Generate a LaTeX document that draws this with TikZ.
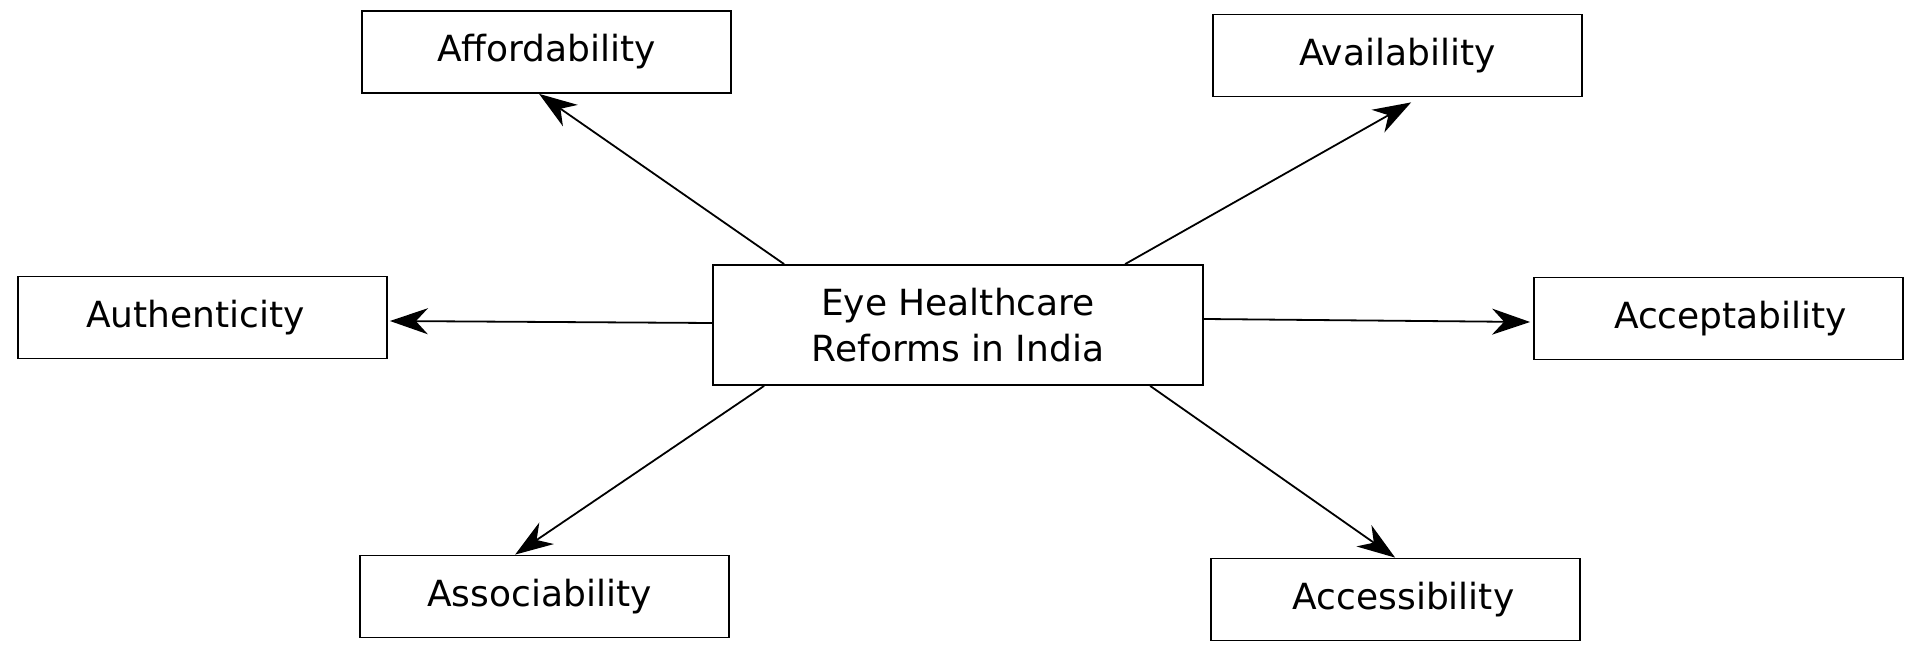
\documentclass[tikz,border=0pt]{standalone}
\usepackage{fontspec}
\setmainfont{DejaVu Sans}
\usetikzlibrary{arrows.meta}
\begin{document}
\begin{tikzpicture}[x=0.5pt,y=-0.5pt,
  box/.style={draw=black,line width=0.9pt,minimum width=184.5pt,minimum height=41pt,inner sep=0pt,font=\fontsize{18pt}{23pt}\selectfont},
  mainbox/.style={draw=black,line width=0.9pt,minimum width=245pt,minimum height=60pt,inner sep=0pt,align=center,font=\fontsize{18pt}{23pt}\selectfont},
  arr/.style={line width=0.9pt,-{Stealth[length=19pt,width=13pt,inset=6pt]}}]
\useasboundingbox (0,0) rectangle (1920,651);
\fill[white] (0,0) rectangle (1920,651);
\node[mainbox] (c) at (958,325) {Eye Healthcare\\Reforms in India};
\node[box] (aff) at (546.5,52) {\raisebox{2pt}{Affordability}};
\node[box] (ava) at (1397.5,55.5) {\raisebox{1pt}{Availability}};
\node[box] (aut) at (202.5,317.5) {\hspace*{-7pt}Authenticity};
\node[box] (acp) at (1718.5,318.5) {\hspace*{12pt}Acceptability};
\node[box] (aso) at (544.5,596.5) {\hspace*{-5pt}Associability};
\node[box] (acs) at (1395.5,599.5) {\hspace*{8pt}Accessibility};
\draw[arr] ([xshift=36pt]c.north west) -- ([xshift=89pt]aff.south west);
\draw[arr] ([xshift=206.5pt]c.north west) -- ([xshift=99.5pt,yshift=-2.5pt]ava.south west);
\draw[arr] ([yshift=1pt]c.west) -- ([xshift=1pt,yshift=-1.75pt]aut.east);
\draw[arr] ([yshift=3pt]c.east) -- ([xshift=-1.5pt,yshift=-1.75pt]acp.west);
\draw[arr] ([xshift=26pt]c.south west) -- ([xshift=78pt]aso.north west);
\draw[arr] ([xshift=219pt]c.south west) -- ([xshift=92.5pt]acs.north west);
\end{tikzpicture}
\end{document}
